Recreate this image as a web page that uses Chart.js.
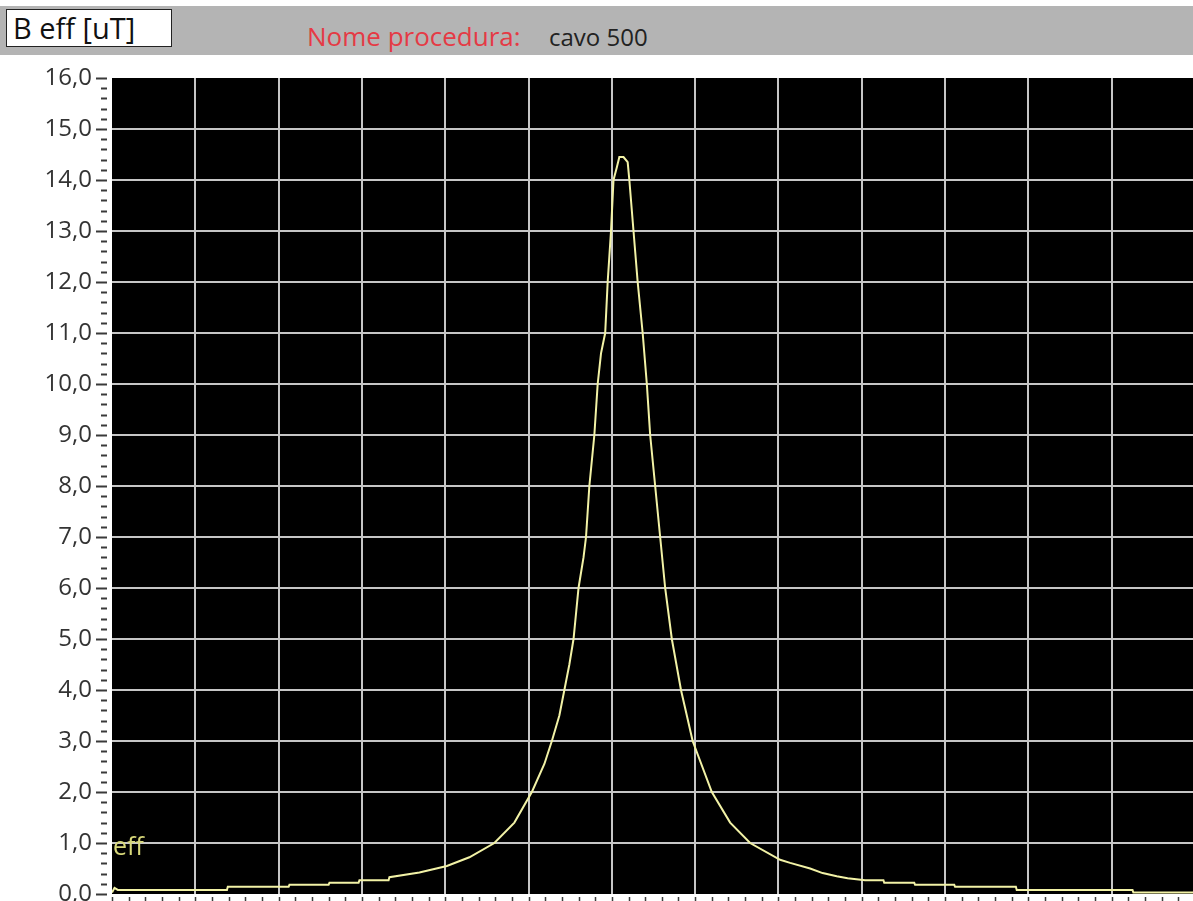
<!DOCTYPE html>
<html>
<head>
<meta charset="utf-8">
<script src="https://cdn.jsdelivr.net/npm/chart.js@4.4.0/dist/chart.umd.min.js"></script>
<style>
  html, body { margin: 0; padding: 0; background: #fff; overflow: hidden; width: 1193px; height: 901px; }
  #bar { position: absolute; left: 0; top: 6px; width: 1193px; height: 49px; background: #b4b4b4; }
  #box { position: absolute; left: 6px; top: 9px; width: 164px; height: 36px; background: #fff; border: 1.5px solid #222; }
  .t { position: absolute; font-family: "Open Sans", sans-serif; white-space: nowrap; }
  #wrap { position: absolute; left: 0; top: 0; }
</style>
</head>
<body>
<div id="wrap"><canvas id="chart" width="1195" height="930"></canvas></div>
<div id="bar"></div>
<div id="box"></div>
<span class="t" style="left:13px; top:13px; font-size:29px; line-height:29px; color:#111;">B eff [uT]</span>
<span class="t" style="left:307px; top:23px; font-size:26px; line-height:26px; color:#e53a45;">Nome procedura:</span>
<span class="t" style="left:549px; top:25px; font-size:24px; line-height:24px; color:#222;">cavo 500</span>
<span class="t" style="left:113px; top:833px; font-size:25px; line-height:25px; color:#d8d87a;">eff</span>
<script>
// x in grid divisions (axis labels are outside the picture), y = B eff in uT
const xPos = [0.00, 0.03, 0.07, 1.38, 1.39, 2.12, 2.13, 2.60, 2.61, 2.96, 2.97, 3.32, 3.33, 3.69,
  4.02, 4.29, 4.59, 4.83, 5.04, 5.19, 5.28, 5.37, 5.43, 5.49, 5.54, 5.60, 5.66, 5.69, 5.73, 5.79,
  5.83, 5.87, 5.92, 5.95, 5.99, 6.02, 6.06, 6.09, 6.14, 6.19, 6.21, 6.26, 6.31, 6.37, 6.42, 6.46,
  6.52, 6.58, 6.64, 6.72, 6.83, 6.97, 7.20, 7.42, 7.66, 8.02, 8.14, 8.38, 8.53, 8.70, 8.83, 9.04,
  9.26, 9.27, 9.63, 9.64, 10.11, 10.12, 10.85, 10.86, 12.25, 12.26, 13.00];
const bEff = [0.03, 0.12, 0.08, 0.08, 0.14, 0.14, 0.18, 0.18, 0.22, 0.22, 0.27, 0.27, 0.33, 0.42,
  0.55, 0.72, 1.00, 1.40, 2.00, 2.55, 3.00, 3.50, 4.00, 4.50, 5.00, 6.00, 6.60, 7.00, 8.00, 9.00,
  10.00, 10.60, 11.00, 12.00, 13.00, 14.00, 14.25, 14.45, 14.45, 14.35, 14.00, 13.00, 12.00, 11.00, 10.00, 9.00,
  8.00, 7.00, 6.00, 5.00, 4.00, 3.00, 2.00, 1.40, 1.00, 0.67, 0.61, 0.50, 0.41, 0.35, 0.31, 0.27,
  0.27, 0.22, 0.22, 0.18, 0.18, 0.14, 0.14, 0.08, 0.08, 0.03, 0.03];
const yMin = 0, yMax = 16, xMin = 0, xMax = 13;
const minorPerMajor = 5;

Chart.defaults.font.family = "'Open Sans', sans-serif";

const gridColor = "#c6c6c6";

// black plot background
const plotBg = {
  id: "plotBg",
  beforeDraw(chart) {
    const a = chart.chartArea, ctx = chart.ctx;
    ctx.save();
    ctx.fillStyle = "#000";
    ctx.fillRect(a.left, a.top, a.right - a.left, a.bottom - a.top);
    ctx.restore();
  }
};

// major + minor tick marks outside the plot
const tickMarks = {
  id: "tickMarks",
  afterDraw(chart) {
    const ctx = chart.ctx, y = chart.scales.y, x = chart.scales.x, a = chart.chartArea;
    ctx.save();
    ctx.strokeStyle = "#3a3a3a";
    ctx.lineWidth = 2;
    ctx.beginPath();
    for (let i = 0; i <= (yMax - yMin) * minorPerMajor; i++) {
      const py = Math.round(y.getPixelForValue(yMin + i / minorPerMajor)) + 0.5;
      const major = i % minorPerMajor === 0;
      ctx.moveTo(a.left - (major ? 16 : 11), py);
      ctx.lineTo(a.left - 5, py);
    }
    ctx.stroke();
    ctx.lineWidth = 1.5;
    ctx.beginPath();
    for (let i = 0; i <= (xMax - xMin) * minorPerMajor; i++) {
      const px = Math.round(x.getPixelForValue(xMin + i / minorPerMajor)) + 0.5;
      ctx.moveTo(px, a.bottom + 3);
      ctx.lineTo(px, a.bottom + 9);
    }
    ctx.stroke();
    ctx.restore();
  }
};

new Chart(document.getElementById("chart"), {
  type: "line",
  data: {
    datasets: [{
      label: "eff",
      data: xPos.map((v, i) => ({ x: v, y: bEff[i] })),
      borderColor: "#f2f2a6",
      borderWidth: 2,
      pointRadius: 0,
      tension: 0
    }]
  },
  options: {
    responsive: false,
    animation: false,
    layout: { padding: { top: 78, left: 0, right: 0, bottom: 0 } },
    plugins: { legend: { display: false }, tooltip: { enabled: false } },
    scales: {
      x: {
        type: "linear",
        min: xMin, max: xMax,
        ticks: { stepSize: 1, display: false },
        grid: {
          drawTicks: false,
          lineWidth: 2,
          color: c => (c.tick.value <= xMin || c.tick.value >= xMax) ? "rgba(0,0,0,0)" : gridColor
        },
        border: { display: false },
        afterFit: s => { s.height = 36; }
      },
      y: {
        min: yMin, max: yMax,
        ticks: {
          stepSize: 1,
          color: "#333",
          padding: 20,
          font: { size: 24 },
          callback: v => v.toFixed(1).replace(".", ",")
        },
        grid: {
          drawTicks: false,
          lineWidth: 2,
          color: c => (c.tick.value <= yMin || c.tick.value >= yMax) ? "rgba(0,0,0,0)" : gridColor
        },
        border: { display: false },
        afterFit: s => { s.width = 112; }
      }
    }
  },
  plugins: [plotBg, tickMarks]
});
</script>
</body>
</html>
